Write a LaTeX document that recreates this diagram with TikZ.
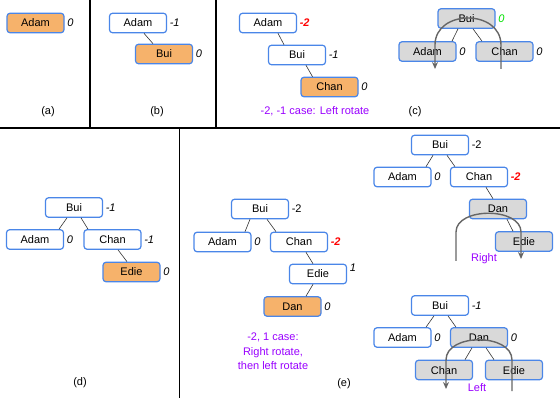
\documentclass[tikz,border=0pt]{standalone}
\usepackage{fontspec}
\setmainfont{Liberation Sans}
\usetikzlibrary{arrows.meta,calc}
\definecolor{boxblue}{HTML}{4A86E8}
\definecolor{boxorange}{HTML}{F6B26B}
\definecolor{boxgray}{HTML}{D9D9D9}
\definecolor{txtpurple}{HTML}{9900FF}
\definecolor{txtgreen}{HTML}{00E000}
\definecolor{arcgray}{HTML}{666666}
\tikzset{
  tbox/.style={draw=boxblue, line width=1.2pt, rounded corners=3pt, minimum width=57pt, minimum height=19.5pt, inner sep=0pt, text height=8pt, text depth=0pt, font=\fontsize{11}{13}\selectfont},
  white box/.style={tbox, fill=white},
  new box/.style={tbox, fill=boxorange},
  rot box/.style={tbox, fill=boxgray},
  bal/.style={anchor=west, inner sep=0pt, xshift=2.5pt, font=\fontsize{11}{13}\selectfont\itshape},
  balup/.style={bal, font=\fontsize{11}{13}\selectfont},
  balred/.style={bal, text=red, font=\fontsize{11}{13}\selectfont\bfseries\itshape},
  balgreen/.style={bal, text=txtgreen},
  edge/.style={draw=black!80, line width=0.6pt},
  sep/.style={draw=black, line width=1.3pt},
  caption/.style={font=\fontsize{11}{13}\selectfont, inner sep=0pt},
  note/.style={font=\fontsize{11}{14.5}\selectfont, text=txtpurple, inner sep=0pt, align=center},
  rotarc/.style={draw=arcgray, line width=1.4pt, -{Stealth[length=7pt,width=6pt]}},
}
\newcommand\myconn[4]{\draw[edge] ([xshift=#2pt]#1.south) -- ([xshift=#4pt]#3.north);}
\begin{document}
\begin{tikzpicture}[x=1pt,y=-1pt]
\useasboundingbox (0,0) rectangle (560,406);
% separators
\coordinate (h1) at (0,128); \coordinate (h2) at (560,128);
\coordinate (v1t) at (90,0); \coordinate (v1b) at (90,128);
\coordinate (v2t) at (216,0); \coordinate (v2b) at (216,128);
\coordinate (v3t) at (179.5,128); \coordinate (v3b) at (179.5,398);
\draw[sep] (h1) -- (h2);
\draw[sep] (v1t) -- (v1b);
\draw[sep] (v2t) -- (v2b);
\draw[sep] (v3t) -- (v3b);

% (a)
\node[new box] (adamA) at (35.5,23) {Adam};
\node[bal] (adamAb) at (adamA.east) {0};
\node[caption] (capA) at (48,112) {(a)};

% (b)
\node[white box] (adamB) at (138,23) {Adam};
\node[new box] (buiB) at (164,54) {Bui};
\node[bal] (adamBb) at (adamB.east) {-1};
\node[bal] (buiBb) at (buiB.east) {0};
\myconn{adamB}{6}{buiB}{-11}
\node[caption] (capB) at (157,112) {(b)};

% (c) left
\node[white box] (adamC) at (268,23) {Adam};
\node[white box] (buiC) at (297,55) {Bui};
\node[new box] (chanC) at (329.5,87) {Chan};
\node[balred] (adamCb) at (adamC.east) {-2};
\node[bal] (buiCb) at (buiC.east) {-1};
\node[bal] (chanCb) at (chanC.east) {0};
\myconn{adamC}{10}{buiC}{-13}
\myconn{buiC}{9}{chanC}{-17}
\node[note] (noteC) at (315,111) {-2, -1 case: Left rotate};
\node[caption] (capC) at (415,112) {(c)};

% (c) right
\node[rot box] (buiR) at (466.5,18.5) {Bui};
\node[rot box] (adamR) at (427.5,51.5) {Adam};
\node[rot box] (chanR) at (504.5,51.5) {Chan};
\node[balgreen] (buiRb) at (buiR.east) {0};
\node[bal] (adamRb) at (adamR.east) {0};
\node[bal] (chanRb) at (chanR.east) {0};
\myconn{buiR}{-8.5}{adamR}{24.5}
\myconn{buiR}{6.5}{chanR}{-22.5}
\coordinate (arcCs) at (501,69);
\coordinate (arcCe) at (435,69);
\draw[rotarc] (arcCs) -- (501,45) .. controls (501,9) and (435,9) .. (435,45) -- (arcCe);

% (d)
\node[white box] (buiD) at (74,207.5) {Bui};
\node[white box] (adamD) at (35,239.5) {Adam};
\node[white box] (chanD) at (112.5,239.5) {Chan};
\node[new box] (edieD) at (131.5,272) {Edie};
\node[bal] (buiDb) at (buiD.east) {-1};
\node[bal] (adamDb) at (adamD.east) {0};
\node[bal] (chanDb) at (chanD.east) {-1};
\node[bal] (edieDb) at (edieD.east) {0};
\myconn{buiD}{-7}{adamD}{24}
\myconn{buiD}{7}{chanD}{-24.5}
\myconn{chanD}{5.5}{edieD}{-4.5}
\node[caption] (capD) at (80,383) {(d)};

% (e) left
\node[white box] (buiE) at (260,209) {Bui};
\node[white box] (adamE) at (222.5,242) {Adam};
\node[white box] (chanE) at (299,242) {Chan};
\node[white box] (edieE) at (318,274) {Edie};
\node[new box] (danE) at (292.5,306.5) {Dan};
\node[balup] (buiEb) at (buiE.east) {-2};
\node[bal] (adamEb) at (adamE.east) {0};
\node[balred] (chanEb) at (chanE.east) {-2};
\node[bal, yshift=-4pt] (edieEb) at (edieE.north east) {1};
\node[bal] (danEb) at (danE.east) {0};
\myconn{buiE}{-10}{adamE}{22.5}
\myconn{buiE}{7}{chanE}{-23}
\myconn{chanE}{7}{edieE}{-5}
\myconn{edieE}{-5}{danE}{13.5}
\node[note] (noteE) at (273,351.5) {-2, 1 case:\\Right rotate,\\then left rotate};
\node[caption] (capE) at (344,384) {(e)};

% (e) top right
\node[white box] (buiF) at (440,145) {Bui};
\node[white box] (adamF) at (402.5,177) {Adam};
\node[white box] (chanF) at (479,177) {Chan};
\node[rot box] (danF) at (498,209) {Dan};
\node[rot box] (edieF) at (524,241.5) {Edie};
\node[balup] (buiFb) at (buiF.east) {-2};
\node[bal] (adamFb) at (adamF.east) {0};
\node[balred] (chanFb) at (chanF.east) {-2};
\myconn{buiF}{-7}{adamF}{23.5}
\myconn{buiF}{7}{chanF}{-24}
\myconn{chanF}{7}{danF}{-5}
\myconn{danF}{9}{edieF}{-11}
\coordinate (arcFs) at (456,261);
\coordinate (arcFe) at (521,259);
\draw[rotarc] (arcFs) -- (456,232) .. controls (456,207) and (521,207) .. (521,232) -- (arcFe);
\node[note] (noteF) at (484,259) {Right};

% (e) bottom right
\node[white box] (buiG) at (440,305.5) {Bui};
\node[white box] (adamG) at (402.5,337.5) {Adam};
\node[rot box] (danG) at (479,337.5) {Dan};
\node[rot box] (chanG) at (444,370) {Chan};
\node[rot box] (edieG) at (514,370) {Edie};
\node[bal] (buiGb) at (buiG.east) {-1};
\node[bal] (adamGb) at (adamG.east) {0};
\node[bal] (danGb) at (danG.east) {0};
\myconn{buiG}{-6}{adamG}{23.5}
\myconn{buiG}{8}{danG}{-23}
\myconn{danG}{-7}{chanG}{21}
\myconn{danG}{7}{edieG}{-20}
\coordinate (arcGs) at (512,391);
\coordinate (arcGe) at (446,389);
\draw[rotarc] (arcGs) -- (512,360) .. controls (512,333) and (446,333) .. (446,360) -- (arcGe);
\node[note] (noteG) at (477,388) {Left};
\end{tikzpicture}
\end{document}
